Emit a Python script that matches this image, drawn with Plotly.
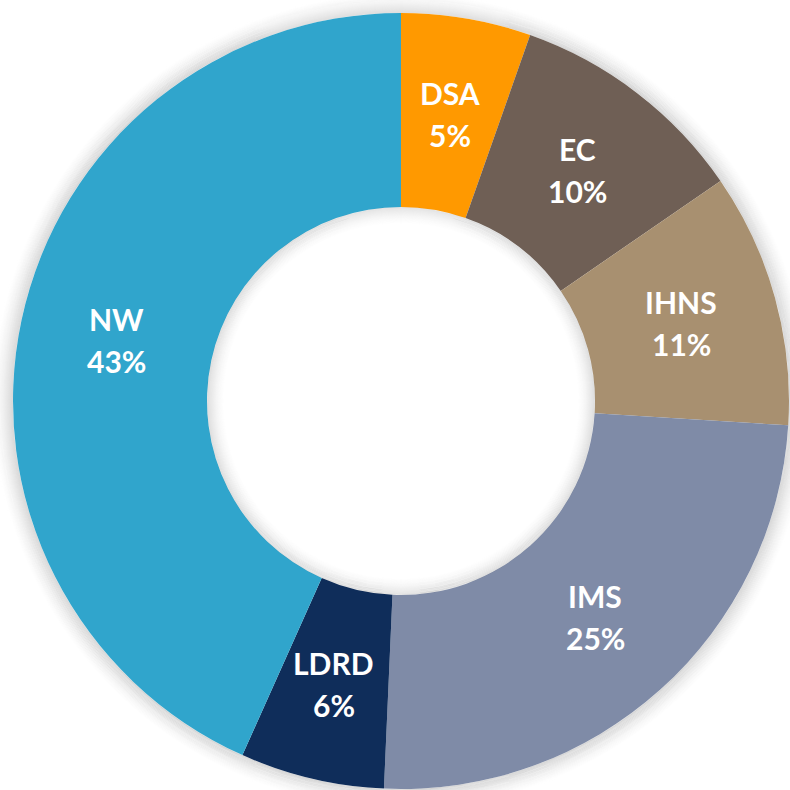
import math
import plotly.graph_objects as go

labels = ["DSA", "EC", "IHNS", "IMS", "LDRD", "NW"]
values = [5.4, 10.0, 10.6, 24.7, 6.0, 43.3]
colors = ["#FF9900", "#6F5F55", "#A89070", "#7F8BA7", "#0F2D5A", "#30A5CC"]

S = 790
cx, cy, r = 401, 401, 388   # centre / radius in figure pixels (from top-left)
hole = 0.5
r_in = r * hole

fig = go.Figure(go.Pie(
    labels=labels,
    values=values,
    sort=False,
    direction="clockwise",
    rotation=0,
    hole=hole,
    marker=dict(colors=colors, line=dict(width=0)),
    textinfo="none",
    domain=dict(x=[(cx - r) / S, (cx + r) / S], y=[(S - cy - r) / S, (S - cy + r) / S]),
    showlegend=False,
    hoverinfo="label+percent",
))

# labels placed at the middle of the ring for each slice
total = sum(values)
rm = (r + r_in) / 2
cum = 0.0
font = dict(family="Lato", size=30, color="white", weight="bold")
for lab, v in zip(labels, values):
    mid = (cum + v / 2) / total * 2 * math.pi
    cum += v
    px = cx + rm * math.sin(mid)
    py = cy - rm * math.cos(mid)
    pct = f"{round(v / total * 100)}%"
    for txt, dy in ((lab, -21), (pct, 21)):
        fig.add_annotation(x=px / S, y=(S - py) / S, xref="paper", yref="paper",
                           text=txt, showarrow=False, font=font, yshift=-dy,
                           xanchor="center", yanchor="middle")

# soft shadows around the outer edge and inside the hole
shapes = []
N_OUT = 22
for k in range(0, N_OUT):
    rr = r + k + 0.5
    op = 0.13 * (1 - k / N_OUT) ** 1.6
    shapes.append(dict(type="circle", xref="paper", yref="paper",
                       x0=(cx - rr) / S, x1=(cx + rr) / S,
                       y0=(S - cy - rr) / S, y1=(S - cy + rr) / S,
                       line=dict(color=f"rgba(0,0,0,{op:.3f})", width=1.2),
                       layer="below"))
N_IN = 18
for k in range(0, N_IN):
    rr = r_in - k - 0.5
    op = 0.11 * (1 - k / N_IN) ** 1.6
    shapes.append(dict(type="circle", xref="paper", yref="paper",
                       x0=(cx - rr) / S, x1=(cx + rr) / S,
                       y0=(S - cy - rr) / S, y1=(S - cy + rr) / S,
                       line=dict(color=f"rgba(0,0,0,{op:.3f})", width=1.2),
                       layer="above"))

fig.update_layout(
    width=S, height=S,
    margin=dict(l=0, r=0, t=0, b=0),
    paper_bgcolor="white",
    plot_bgcolor="white",
    shapes=shapes,
)
fig.write_html(
    "out.html",
    config={"displayModeBar": False},
    post_script="document.body.style.margin='0';document.body.style.overflow='hidden';",
)
